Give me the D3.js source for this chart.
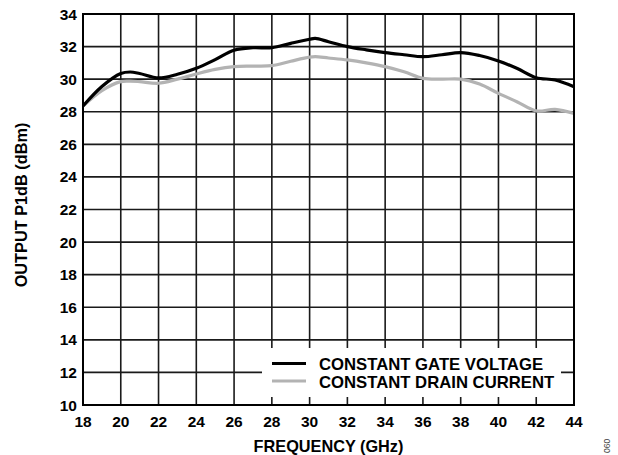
<!DOCTYPE html>
<html>
<head>
<meta charset="utf-8">
<script src="https://cdn.jsdelivr.net/npm/d3@7"></script>
<style>
  html, body { margin: 0; padding: 0; background: #fff; }
  svg { display: block; }
  text { font-family: "Liberation Sans", Arial, sans-serif; font-weight: bold; fill: #000; }
</style>
</head>
<body>
<svg id="chart" width="618" height="455"></svg>
<script>
// ---- Data ----
const freqGHz = [18, 19, 20, 20.5, 21, 22, 23, 24, 25, 26, 27, 28, 29, 30, 30.3, 31, 32, 33, 34, 35, 36, 37, 38, 39, 40, 41, 42, 43, 44];
const gateVoltage = [28.35, 29.55, 30.35, 30.44, 30.35, 30.08, 30.3, 30.67, 31.2, 31.78, 31.93, 31.93, 32.2, 32.45, 32.5, 32.3, 32.0, 31.8, 31.63, 31.5, 31.38, 31.5, 31.63, 31.45, 31.12, 30.65, 30.09, 29.95, 29.54];
const drainCurrent = [28.35, 29.3, 29.85, 29.88, 29.85, 29.75, 30.0, 30.32, 30.6, 30.77, 30.8, 30.83, 31.1, 31.35, 31.38, 31.3, 31.18, 31.0, 30.77, 30.45, 30.05, 30.0, 30.0, 29.7, 29.13, 28.6, 28.05, 28.15, 27.9];
const xTicks = [18, 20, 22, 24, 26, 28, 30, 32, 34, 36, 38, 40, 42, 44];
const yTicks = [10, 12, 14, 16, 18, 20, 22, 24, 26, 28, 30, 32, 34];
const seriesNames = ["CONSTANT GATE VOLTAGE", "CONSTANT DRAIN CURRENT"];
const seriesColors = ["#000000", "#b3b3b3"];
const xTitle = "FREQUENCY (GHz)";
const yTitle = "OUTPUT P1dB (dBm)";
const figId = "060";

// ---- Layout ----
const svg = d3.select("#chart");
const L = 83, R = 574, T = 14, B = 405;
const x = d3.scaleLinear().domain([18, 44]).range([L, R]);
const y = d3.scaleLinear().domain([10, 34]).range([B, T]);

// grid
const grid = svg.append("g");
grid.selectAll("line.v").data(xTicks).join("line")
  .attr("x1", d => x(d)).attr("x2", d => x(d))
  .attr("y1", T).attr("y2", B)
  .attr("stroke", "#1a1a1a").attr("stroke-width", 1.6);
grid.selectAll("line.h").data(yTicks).join("line")
  .attr("x1", L).attr("x2", R)
  .attr("y1", d => y(d)).attr("y2", d => y(d))
  .attr("stroke", "#1a1a1a").attr("stroke-width", 1.6);

// series
const series = [gateVoltage, drainCurrent];
const line = d3.line().curve(d3.curveCatmullRom.alpha(0.5))
  .x((d, i) => x(freqGHz[i])).y(d => y(d));
[1, 0].forEach(k => {
  svg.append("path").datum(series[k])
    .attr("d", line)
    .attr("fill", "none")
    .attr("stroke", seriesColors[k])
    .attr("stroke-width", 3.2)
    .attr("stroke-linejoin", "round");
});

// legend box (white, covers grid)
const lg = svg.append("g");
lg.append("rect").attr("x", 262).attr("y", 348).attr("width", 299).attr("height", 49).attr("fill", "#fff");
seriesNames.forEach((name, i) => {
  const ly = 363.5 + i * 17.5;
  lg.append("line").attr("x1", 272).attr("x2", 306).attr("y1", ly).attr("y2", ly)
    .attr("stroke", seriesColors[i]).attr("stroke-width", 3.2);
  lg.append("text").attr("x", 319).attr("y", ly + 6.5)
    .attr("font-size", 16.7).text(name);
});

// frame
svg.append("rect").attr("x", L).attr("y", T).attr("width", R - L).attr("height", B - T)
  .attr("fill", "none").attr("stroke", "#000").attr("stroke-width", 2);

// tick labels
svg.append("g").selectAll("text").data(yTicks).join("text")
  .attr("x", L - 6).attr("y", d => y(d)).attr("dy", "0.36em")
  .attr("text-anchor", "end").attr("font-size", 15.5).text(d => d);
svg.append("g").selectAll("text").data(xTicks).join("text")
  .attr("x", d => x(d)).attr("y", 427)
  .attr("text-anchor", "middle").attr("font-size", 15.5).text(d => d);

// axis titles
svg.append("text").attr("x", (L + R) / 2).attr("y", 452)
  .attr("text-anchor", "middle").attr("font-size", 16.3).text(xTitle);
svg.append("text").attr("transform", "translate(27,205) rotate(-90)")
  .attr("text-anchor", "middle").attr("font-size", 16.3).text(yTitle);

// figure id
svg.append("text").attr("transform", "translate(610,453) rotate(-90)")
  .attr("font-size", 8.5).style("font-weight", "normal")
  .style("fill", "#444").text(figId);
</script>
</body>
</html>
